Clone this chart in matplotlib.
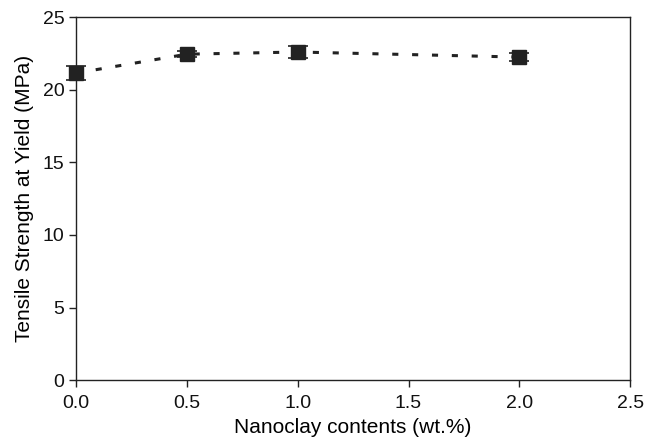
import matplotlib
matplotlib.use("Agg")
from matplotlib import pyplot as plt

# data
clay = [0.0, 0.5, 1.0, 2.0]
strength = [21.15, 22.45, 22.6, 22.25]
err = [0.5, 0.2, 0.4, 0.3]
x_ticks = [0.0, 0.5, 1.0, 1.5, 2.0, 2.5]
y_ticks = [0, 5, 10, 15, 20, 25]

plt.rcParams['font.family'] = ['Liberation Sans', 'DejaVu Sans']

fig = plt.figure(figsize=(6.45, 4.4), dpi=100)
ax = fig.add_axes([0.118, 0.136, 0.859, 0.825])

ax.errorbar(clay, strength, yerr=err, fmt='none', ecolor='#222222',
            elinewidth=1.2, capsize=7, capthick=1.2, zorder=2, clip_on=False)
ax.plot(clay, strength, color='#222222', linestyle=(0, (2.0, 4.5)),
        linewidth=2.2, zorder=1)
ax.plot(clay, strength, linestyle='none', marker='s', markersize=10.5,
        color='#222222', zorder=3, clip_on=False)

ax.set_xlim(0, 2.5)
ax.set_ylim(0, 25)
ax.set_xticks(x_ticks)
ax.set_xticklabels([f"{t:.1f}" for t in x_ticks])
ax.set_yticks(y_ticks)

ax.set_xlabel('Nanoclay contents (wt.%)', fontsize=15, labelpad=4)
ax.set_ylabel('Tensile Strength at Yield (MPa)', fontsize=15, labelpad=6)
ax.tick_params(axis='both', labelsize=14, direction='out', length=5,
               width=1, color='#222222', labelcolor='#111111')
ax.tick_params(axis='x', pad=6)
for s in ax.spines.values():
    s.set_linewidth(1.0)
    s.set_color('#222222')

fig.savefig('out.png', dpi=100)
